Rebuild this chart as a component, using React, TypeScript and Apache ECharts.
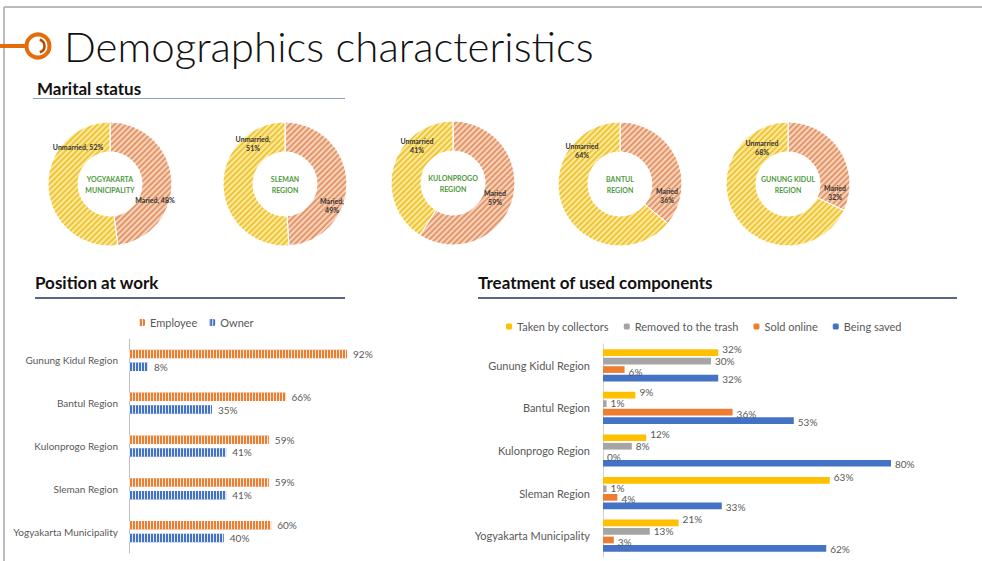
import React, { useEffect, useRef } from "react";
import * as echarts from "echarts";

// ---------- data ----------
const REGIONS = ["Gunung Kidul Region", "Bantul Region", "Kulonprogo Region", "Sleman Region", "Yogyakarta Municipality"];

const DONUT_NAMES = ["YOGYAKARTA\nMUNICIPALITY", "SLEMAN\nREGION", "KULONPROGO\nREGION", "BANTUL\nREGION", "GUNUNG KIDUL\nREGION"];
const MARRIED = [48, 49, 59, 36, 32];
const UNMARRIED = [52, 51, 41, 64, 68];
const LABEL_SEP = [", ", ",\n", "\n", "\n", "\n"];
const MARRIED_NAME = "Maried";
const UNMARRIED_NAME = "Unmarried";

const EMPLOYEE = [92, 66, 59, 59, 60];
const OWNER = [8, 35, 41, 41, 40];

const TREAT_NAMES = ["Taken by collectors", "Removed to the trash", "Sold online", "Being saved"];
const TAKEN = [32, 9, 12, 63, 21];
const TRASH = [30, 1, 8, 1, 13];
const SOLD = [6, 36, 0, 4, 3];
const SAVED = [32, 53, 80, 33, 62];

// ---------- layout ----------
const DONUT_CENTERS = [[110, 184], [285, 184], [453, 183], [620, 184], [788, 184]];
const LABEL_OFFSETS = [
  { m: [45, 16], u: [-32, -37] },
  { m: [47, 21], u: [-32, -41] },
  { m: [42, 14], u: [-36, -38] },
  { m: [47, 11], u: [-38, -34] },
  { m: [47, 8], u: [-26, -37] },
];
const TREAT_LABEL_SHIFT = [[0, -3.5], [0, -0.5], [0, 2], [0, 1]];

const FONT = "Lato, 'Open Sans', sans-serif";
const GRAY = "#595959";

export default function App() {
  const ref = useRef<HTMLDivElement>(null);
  useEffect(() => {
    if (!ref.current) return;
    const chart = echarts.init(ref.current, undefined, { renderer: "svg" });

    const marriedStyle = {
      color: "#f7d3bb",
      borderColor: "#fff",
      borderWidth: 1,
      decal: { symbol: "rect", symbolSize: 1, color: "#e3976a", dashArrayX: [1, 0], dashArrayY: [2, 2], rotation: -Math.PI / 4 },
    };
    const unmarriedStyle = {
      color: "#fce9a0",
      borderColor: "#fff",
      borderWidth: 1,
      decal: { symbol: "rect", symbolSize: 1, color: "#f0c535", dashArrayX: [1, 0], dashArrayY: [2, 2], rotation: -Math.PI / 4 },
    };

    const pies = DONUT_CENTERS.map((c, i) => ({
      type: "pie",
      center: c,
      radius: [32, 62],
      startAngle: 90,
      clockwise: true,
      silent: true,
      label: {
        position: "inside",
        fontFamily: FONT,
        fontSize: 7,
        fontWeight: "bold",
        color: "#333",
        lineHeight: 9,
        formatter: (p: any) => `${p.name}${LABEL_SEP[i]}${p.value}%`,
      },
      labelLine: { show: false },
      labelLayout: (p: any) => {
        const off = p.dataIndex === 0 ? LABEL_OFFSETS[i].m : LABEL_OFFSETS[i].u;
        return { x: c[0] + off[0], y: c[1] + off[1], align: "center", verticalAlign: "middle" };
      },
      data: [
        { name: MARRIED_NAME, value: MARRIED[i], itemStyle: marriedStyle },
        { name: UNMARRIED_NAME, value: UNMARRIED[i], itemStyle: unmarriedStyle },
      ],
    }));

    const stripe = (c: string) => ({
      color: c,
      decal: { symbol: "rect", symbolSize: 1, color: "rgba(255,255,255,0.85)", dashArrayX: [1, 2], dashArrayY: [4, 0] },
    });

    const treatColors = ["#ffc000", "#a5a5a5", "#ed7d31", "#4472c4"];
    const treatData = [TAKEN, TRASH, SOLD, SAVED];

    const option: any = {
      animation: false,
      backgroundColor: "#fff",
      textStyle: { fontFamily: FONT },
      legend: [
        {
          data: ["Employee", "Owner"],
          left: 134,
          top: 312,
          itemWidth: 6,
          itemHeight: 7,
          itemGap: 12,
          textStyle: { color: GRAY, fontSize: 11, fontFamily: FONT },
          selectedMode: false,
        },
        {
          data: TREAT_NAMES,
          left: 501,
          top: 316,
          itemWidth: 6,
          itemHeight: 6,
          itemGap: 15,
          textStyle: { color: GRAY, fontSize: 11, fontFamily: FONT },
          selectedMode: false,
        },
      ],
      grid: [
        { left: 129, top: 339, width: 237, height: 214, containLabel: false },
        { left: 603, top: 344, width: 360, height: 213, containLabel: false },
      ],
      xAxis: [
        { gridIndex: 0, type: "value", min: 0, max: 100, show: false },
        { gridIndex: 1, type: "value", min: 0, max: 100, show: false },
      ],
      yAxis: [
        {
          gridIndex: 0,
          type: "category",
          data: REGIONS,
          inverse: true,
          axisTick: { show: false },
          axisLine: { lineStyle: { color: "#bfbfbf" } },
          axisLabel: { color: GRAY, fontSize: 10, margin: 11, fontFamily: FONT },
        },
        {
          gridIndex: 1,
          type: "category",
          data: REGIONS,
          inverse: true,
          axisTick: { show: false },
          axisLine: { lineStyle: { color: "#d0d0d0" } },
          axisLabel: { color: GRAY, fontSize: 11, margin: 13, fontFamily: FONT },
        },
      ],
      graphic: [
        { type: "line", shape: { x1: 4, y1: 7, x2: 982, y2: 7 }, style: { stroke: "#a6a6a6", lineWidth: 1.5 } },
        { type: "line", shape: { x1: 4, y1: 7, x2: 4, y2: 561 }, style: { stroke: "#a6a6a6", lineWidth: 1.5 } },
        { type: "line", shape: { x1: 0, y1: 46, x2: 26, y2: 46 }, style: { stroke: "#e46c0a", lineWidth: 4 } },
        { type: "circle", shape: { cx: 38, cy: 46, r: 11.5 }, style: { fill: "none", stroke: "#e46c0a", lineWidth: 4 } },
        { type: "arc", shape: { cx: 38, cy: 46, r: 6.5, startAngle: -1.3, endAngle: 1.3 }, style: { stroke: "#b54d00", lineWidth: 2.5, fill: "none" } },
        {
          type: "text",
          x: 64,
          y: 46,
          style: { text: "Demographics characteristics", fontFamily: FONT, fontWeight: 300, fontSize: 42, fill: "#111", verticalAlign: "middle" },
        },
        {
          type: "text",
          x: 37,
          y: 88,
          style: { text: "Marital status", fontFamily: FONT, fontWeight: "bold", fontSize: 17, fill: "#111", verticalAlign: "middle" },
        },
        { type: "line", shape: { x1: 33, y1: 98.5, x2: 345, y2: 98.5 }, style: { stroke: "#8e9bbf", lineWidth: 1 } },
        {
          type: "text",
          x: 35,
          y: 282,
          style: { text: "Position at work", fontFamily: FONT, fontWeight: "bold", fontSize: 17, fill: "#111", verticalAlign: "middle" },
        },
        { type: "line", shape: { x1: 35, y1: 298, x2: 345, y2: 298 }, style: { stroke: "#22325f", lineWidth: 1.3 } },
        {
          type: "text",
          x: 478,
          y: 282,
          style: { text: "Treatment of used components", fontFamily: FONT, fontWeight: "bold", fontSize: 17, fill: "#111", verticalAlign: "middle" },
        },
        { type: "line", shape: { x1: 478, y1: 298, x2: 957, y2: 298 }, style: { stroke: "#22325f", lineWidth: 1.3 } },
        ...DONUT_CENTERS.map((c, i) => ({
          type: "text",
          x: c[0],
          y: c[1],
          style: {
            text: DONUT_NAMES[i],
            fontFamily: FONT,
            fontWeight: "bold",
            fontSize: 7,
            lineHeight: 11,
            fill: "#4e9a3c",
            align: "center",
            verticalAlign: "middle",
          },
        })),
      ],
      series: [
        ...pies,
        {
          type: "bar",
          name: "Employee",
          xAxisIndex: 0,
          yAxisIndex: 0,
          data: EMPLOYEE,
          barWidth: 8.5,
          barGap: "50%",
          itemStyle: stripe("#ed7d31"),
          label: { show: true, position: "right", distance: 6, formatter: "{c}%", color: GRAY, fontSize: 10, fontFamily: FONT },
        },
        {
          type: "bar",
          name: "Owner",
          xAxisIndex: 0,
          yAxisIndex: 0,
          data: OWNER,
          barWidth: 8.5,
          barGap: "50%",
          itemStyle: stripe("#4472c4"),
          label: { show: true, position: "right", distance: 6, formatter: "{c}%", color: GRAY, fontSize: 10, fontFamily: FONT },
        },
        ...TREAT_NAMES.map((n, k) => ({
          type: "bar",
          name: n,
          xAxisIndex: 1,
          yAxisIndex: 1,
          z: 10 - k,
          data: treatData[k],
          barWidth: 6.7,
          barGap: "27%",
          itemStyle: { color: treatColors[k] },
          label: {
            show: true,
            position: "right",
            distance: 4,
            offset: TREAT_LABEL_SHIFT[k],
            formatter: "{c}%",
            color: GRAY,
            fontSize: 10,
            lineHeight: 8,
            fontFamily: FONT,
          },
        })),
      ],
    };
    chart.setOption(option);
    return () => chart.dispose();
  }, []);
  return <div ref={ref} style={{ position: "absolute", left: 0, top: 0, width: 982, height: 561, background: "#fff" }} />;
}
